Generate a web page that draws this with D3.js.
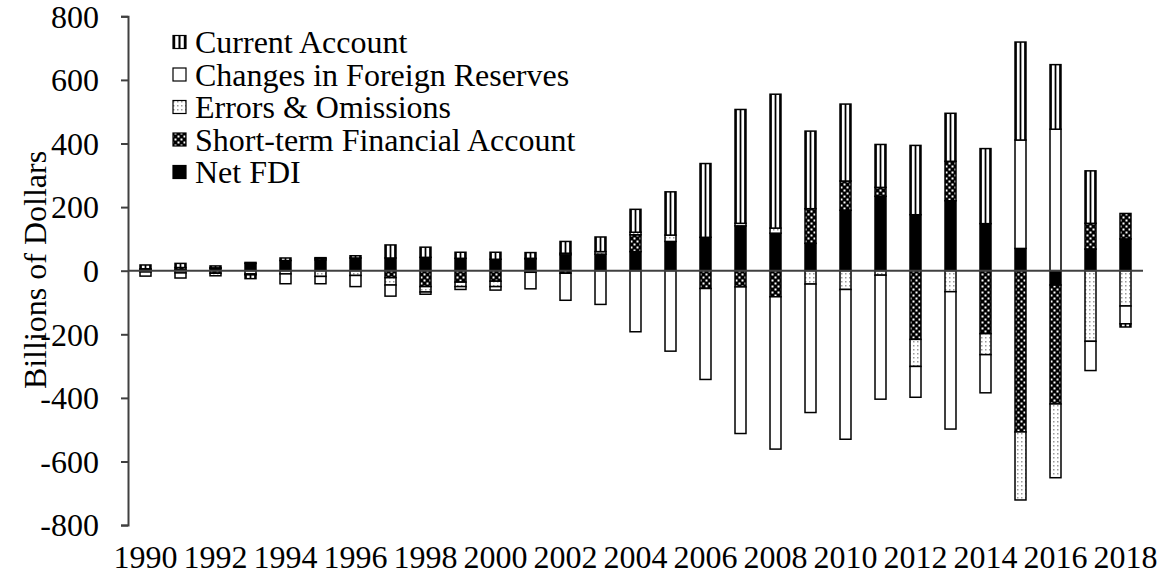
<!DOCTYPE html>
<html><head><meta charset="utf-8">
<script src="https://cdn.jsdelivr.net/npm/d3@7"></script>
<style>
html,body{margin:0;padding:0;background:#fff;}
svg{display:block;font-family:"Liberation Serif","Times New Roman",serif;}
</style></head>
<body>
<svg id="chart" width="1157" height="577"></svg>
<script>
const years = [1990,1991,1992,1993,1994,1995,1996,1997,1998,1999,2000,2001,2002,2003,2004,2005,2006,2007,2008,2009,2010,2011,2012,2013,2014,2015,2016,2017,2018];
const netFDI          = [3,4,7,23,32,34,40,40,42,39,36,37,50,52,60,92,105,141,118,86,190,234,176,220,148,70,-45,68,100];
const shortTermFA     = [3,6,-8,3,0,5,0,-22,-50,-36,-33,2,-8,0,53,0,-56,-51,-82,109,92,28,-216,124,-198,-507,-374,81,80];
const errorsOmissions = [-4,-7,-8,-10,-10,-18,-15,-23,-17,-14,-17,-5,5,8,8,20,0,8,16,-42,-59,-14,-85,-66,-66,-214,-232,-222,-111];
const reserveChanges  = [-13,-16,2,-3,-31,-23,-35,-35,-7,-9,-11,-52,-85,-106,-192,-253,-286,-461,-479,-404,-471,-390,-97,-432,-120,341,445,-92,-56];
const currentAccount  = [12,13,6,-12,8,2,7,41,32,19,22,18,37,46,72,136,232,358,421,244,242,135,218,151,236,308,203,165,-10];
const yTicks = [-800,-600,-400,-200,0,200,400,600,800];
const xLabels = [1990,1992,1994,1996,1998,2000,2002,2004,2006,2008,2010,2012,2014,2016,2018];
const seriesNames = ["Net FDI","Short-term Financial Account","Errors & Omissions","Changes in Foreign Reserves","Current Account"];
const seriesKeys = ["fdi","stfa","eo","res","ca"];

const rows = years.map((yr,i)=>({year:yr, fdi:netFDI[i], stfa:shortTermFA[i], eo:errorsOmissions[i], res:reserveChanges[i], ca:currentAccount[i]}));

const svg = d3.select("#chart");
const plotLeft = 128, plotRight = 1143, plotTop = 16.3, plotBottom = 525.1;
const fontSize = 32;

const defs = svg.append("defs");
const pCA = defs.append("pattern").attr("id","pCA").attr("patternUnits","objectBoundingBox")
  .attr("patternContentUnits","objectBoundingBox").attr("width",1).attr("height",1);
pCA.append("rect").attr("x",0).attr("y",0).attr("width",1).attr("height",1).attr("fill","#fff");
[[0,0.17],[0.42,0.16],[0.83,0.17]].forEach(([px,w])=>pCA.append("rect").attr("x",px).attr("y",0).attr("width",w).attr("height",1).attr("fill","#000"));
const pEO = defs.append("pattern").attr("id","pEO").attr("patternUnits","userSpaceOnUse").attr("width",4).attr("height",4);
pEO.append("rect").attr("width",4).attr("height",4).attr("fill","#fff");
pEO.append("rect").attr("x",1).attr("y",1).attr("width",1.5).attr("height",1.5).attr("fill","#9a9a9a");
const pST = defs.append("pattern").attr("id","pST").attr("patternUnits","userSpaceOnUse").attr("width",6).attr("height",6);
pST.append("rect").attr("width",6).attr("height",6).attr("fill","#000");
pST.append("rect").attr("x",0.5).attr("y",0.5).attr("width",2).attr("height",2).attr("fill","#fff");
pST.append("rect").attr("x",3.5).attr("y",3.5).attr("width",2).attr("height",2).attr("fill","#fff");

const fills = {fdi:"#000", stfa:"url(#pST)", eo:"url(#pEO)", res:"#fff", ca:"url(#pCA)"};

const xs = d3.scaleBand().domain(years).range([plotLeft,plotRight]).paddingInner(0.686).paddingOuter(0.343);
const ys = d3.scaleLinear().domain([-800,800]).range([plotBottom,plotTop]);

const stack = d3.stack().keys(seriesKeys).order(d3.stackOrderNone).offset(d3.stackOffsetDiverging);
const stacked = stack(rows);

const gBars = svg.append("g");
stacked.forEach(layer=>{
  gBars.append("g").selectAll("rect").data(layer.filter(d=>d[1]!==d[0])).join("rect")
    .attr("x",d=>xs(d.data.year))
    .attr("width",xs.bandwidth())
    .attr("y",d=>ys(Math.max(d[0],d[1])))
    .attr("height",d=>Math.abs(ys(d[0])-ys(d[1])))
    .attr("fill",fills[layer.key])
    .attr("stroke","#000").attr("stroke-width",1.5);
});

svg.append("line").attr("x1",plotLeft).attr("x2",plotRight).attr("y1",ys(0)).attr("y2",ys(0))
  .attr("stroke","#404040").attr("stroke-width",2);

const yAxis = d3.axisLeft(ys).tickValues(yTicks).tickSize(7).tickPadding(22).tickFormat(d3.format("d"));
const gy = svg.append("g").attr("transform",`translate(${plotLeft},0)`).call(yAxis);
gy.select(".domain").attr("stroke","#404040").attr("stroke-width",2);
gy.selectAll(".tick line").attr("stroke","#404040").attr("stroke-width",2);
gy.selectAll(".tick text").attr("font-size",fontSize).attr("font-family","Liberation Serif").attr("fill","#000").attr("dy","0.34em")
  .text(d=>d<0?"-"+Math.abs(d):d);

svg.append("g").selectAll("text").data(xLabels).join("text")
  .attr("x",d=>xs(d)+xs.bandwidth()/2).attr("y",568)
  .attr("text-anchor","middle").attr("font-size",fontSize).attr("fill","#000")
  .text(d=>d);

svg.append("text").attr("transform","translate(46,270) rotate(-90)")
  .attr("text-anchor","middle").attr("font-size",fontSize).attr("fill","#000")
  .text("Billions of Dollars");

const legendOrder = [4,3,2,1,0];
const lg = svg.append("g");
legendOrder.forEach((si,i)=>{
  const cy = 42 + i*32.5;
  lg.append("rect").attr("x",173).attr("y",cy-6.5).attr("width",13).attr("height",13)
    .attr("fill",fills[seriesKeys[si]]).attr("stroke","#000").attr("stroke-width",1.2);
  lg.append("text").attr("x",195).attr("y",cy+11).attr("font-size",fontSize).attr("fill","#000")
    .text(seriesNames[si]);
});
</script>
</body></html>
